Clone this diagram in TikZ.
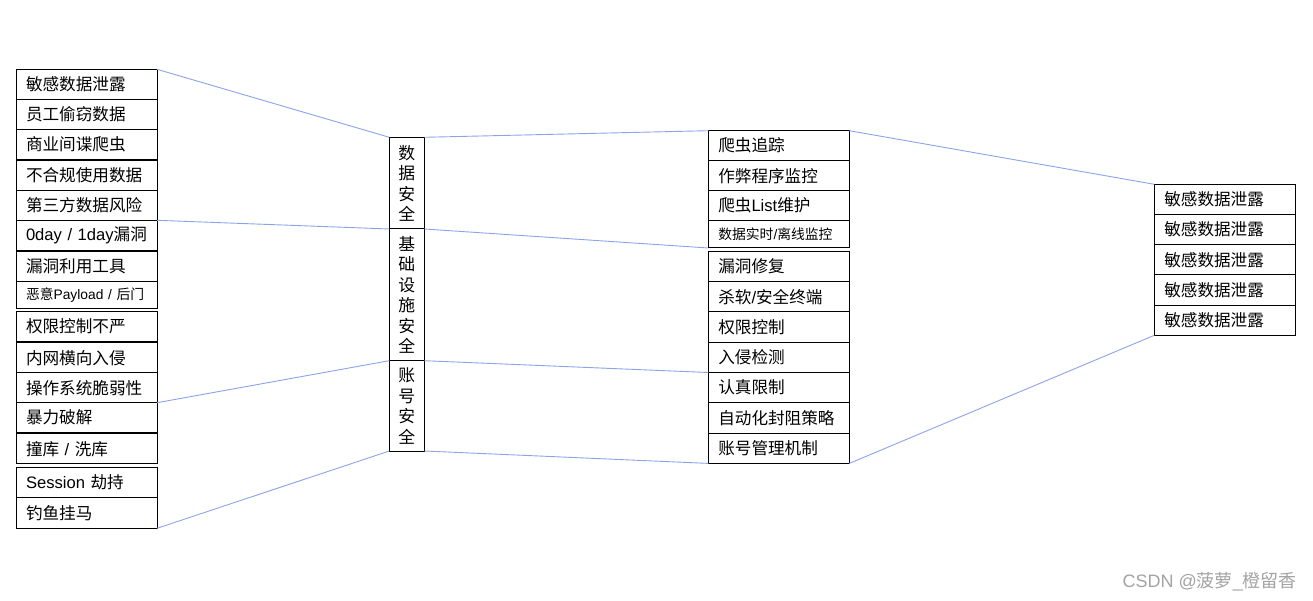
\documentclass[tikz,border=0pt]{standalone}
\usepackage{fontspec}
\setmainfont{Noto Sans CJK SC}
\newfontfamily\lat{Liberation Sans}
\usetikzlibrary{positioning}
\definecolor{Link}{HTML}{8CA3EA}
\definecolor{Mark}{HTML}{A3A3A3}

\begin{document}
\begin{tikzpicture}[
    x=1pt, y=-1pt,
    font=\fontsize{16.6}{19}\selectfont,
    cell/.style={draw, line width=1pt, outer sep=0pt, minimum height=30pt, text width=121pt, inner xsep=10pt, inner ysep=0pt, align=left},
    smallcell/.style={cell, minimum height=27.3pt, font=\fontsize{13.8}{16}\selectfont},
    pillar/.style={draw, line width=1pt, outer sep=0pt, minimum width=35pt, inner sep=0pt, align=center, font=\fontsize{16.8}{20.5}\selectfont},
    link/.style={color=Link, line width=0.9pt}
  ]
  \useasboundingbox (0,0) rectangle (1313,601);

  \node[cell, anchor=north west] (l1) at (16,69.3) {敏感数据泄露};
  \node[cell, below=0pt of l1] (l2) {员工偷窃数据};
  \node[cell, below=0pt of l2] (l3) {商业间谍爬虫};
  \node[cell, below=1pt of l3] (l4) {不合规使用数据};
  \node[cell, below=0pt of l4] (l5) {第三方数据风险};
  \node[cell, below=0pt of l5] (l6) {{\lat 0day~/~1day}漏洞};
  \node[cell, below=1pt of l6] (l7) {漏洞利用工具};
  \node[smallcell, below=0pt of l7] (l8) {恶意{\lat Payload~/~}后门};
  \node[cell, anchor=north west] (l9) at (16,311.7) {权限控制不严};
  \node[cell, below=1pt of l9] (l10) {内网横向入侵};
  \node[cell, below=0pt of l10] (l11) {操作系统脆弱性};
  \node[cell, below=0pt of l11] (l12) {暴力破解};
  \node[cell, below=1pt of l12] (l13) {撞库{\lat~/~}洗库};
  \node[cell, minimum height=30.5pt, anchor=north west] (l14) at (16,467.3) {{\lat Session~}劫持};
  \node[cell, minimum height=30.5pt, below=0pt of l14] (l15) {钓鱼挂马};

  \node[pillar, minimum height=91.7pt, anchor=north west] (m1) at (389.3,137.3) {数\\据\\安\\全};
  \node[pillar, minimum height=131.7pt, below=0pt of m1] (m2) {基\\础\\设\\施\\安\\全};
  \node[pillar, minimum height=90.3pt, below=0pt of m2] (m3) {账\\号\\安\\全};

  \node[cell, anchor=north west] (r1) at (708.3,130.7) {爬虫追踪};
  \node[cell, below=0pt of r1] (r2) {作弊程序监控};
  \node[cell, below=0pt of r2] (r3) {爬虫{\lat List}维护};
  \node[smallcell, below=0pt of r3] (r4) {数据实时{\lat /}离线监控};
  \node[cell, minimum height=30.3pt, anchor=north west] (r5) at (708.3,251.3) {漏洞修复};
  \node[cell, minimum height=30.3pt, below=0pt of r5] (r6) {杀软{\lat /}安全终端};
  \node[cell, minimum height=30.3pt, below=0pt of r6] (r7) {权限控制};
  \node[cell, minimum height=30.3pt, below=0pt of r7] (r8) {入侵检测};
  \node[cell, minimum height=30.3pt, below=0pt of r8] (r9) {认真限制};
  \node[cell, minimum height=30.3pt, below=0pt of r9] (r10) {自动化封阻策略};
  \node[cell, minimum height=30.3pt, below=0pt of r10] (r11) {账号管理机制};

  \node[cell, minimum height=30.2pt, anchor=north west] (q1) at (1154.3,184.3) {敏感数据泄露};
  \node[cell, minimum height=30.2pt, below=0pt of q1] (q2) {敏感数据泄露};
  \node[cell, minimum height=30.2pt, below=0pt of q2] (q3) {敏感数据泄露};
  \node[cell, minimum height=30.2pt, below=0pt of q3] (q4) {敏感数据泄露};
  \node[cell, minimum height=30.2pt, below=0pt of q4] (q5) {敏感数据泄露};

  \draw[link] (l1.north east) -- (m1.north west);
  \draw[link] (l5.south east) -- (m2.north west);
  \draw[link] (l11.south east) -- (m3.north west);
  \draw[link] (l15.south east) -- (m3.south west);
  \draw[link] (m1.north east) -- (r1.north west);
  \draw[link] (m2.north east) -- (r4.south west);
  \draw[link] (m3.north east) -- (r8.south west);
  \draw[link] (m3.south east) -- (r11.south west);
  \draw[link] (r1.north east) -- (q1.north west);
  \draw[link] (r11.south east) -- (q5.south west);

  \node[anchor=east, text=Mark, inner sep=0pt, font=\fontsize{18}{20}\selectfont] (mark) at (1297,582) {{\lat CSDN @}菠萝{\lat\_}橙留香};
\end{tikzpicture}
\end{document}
